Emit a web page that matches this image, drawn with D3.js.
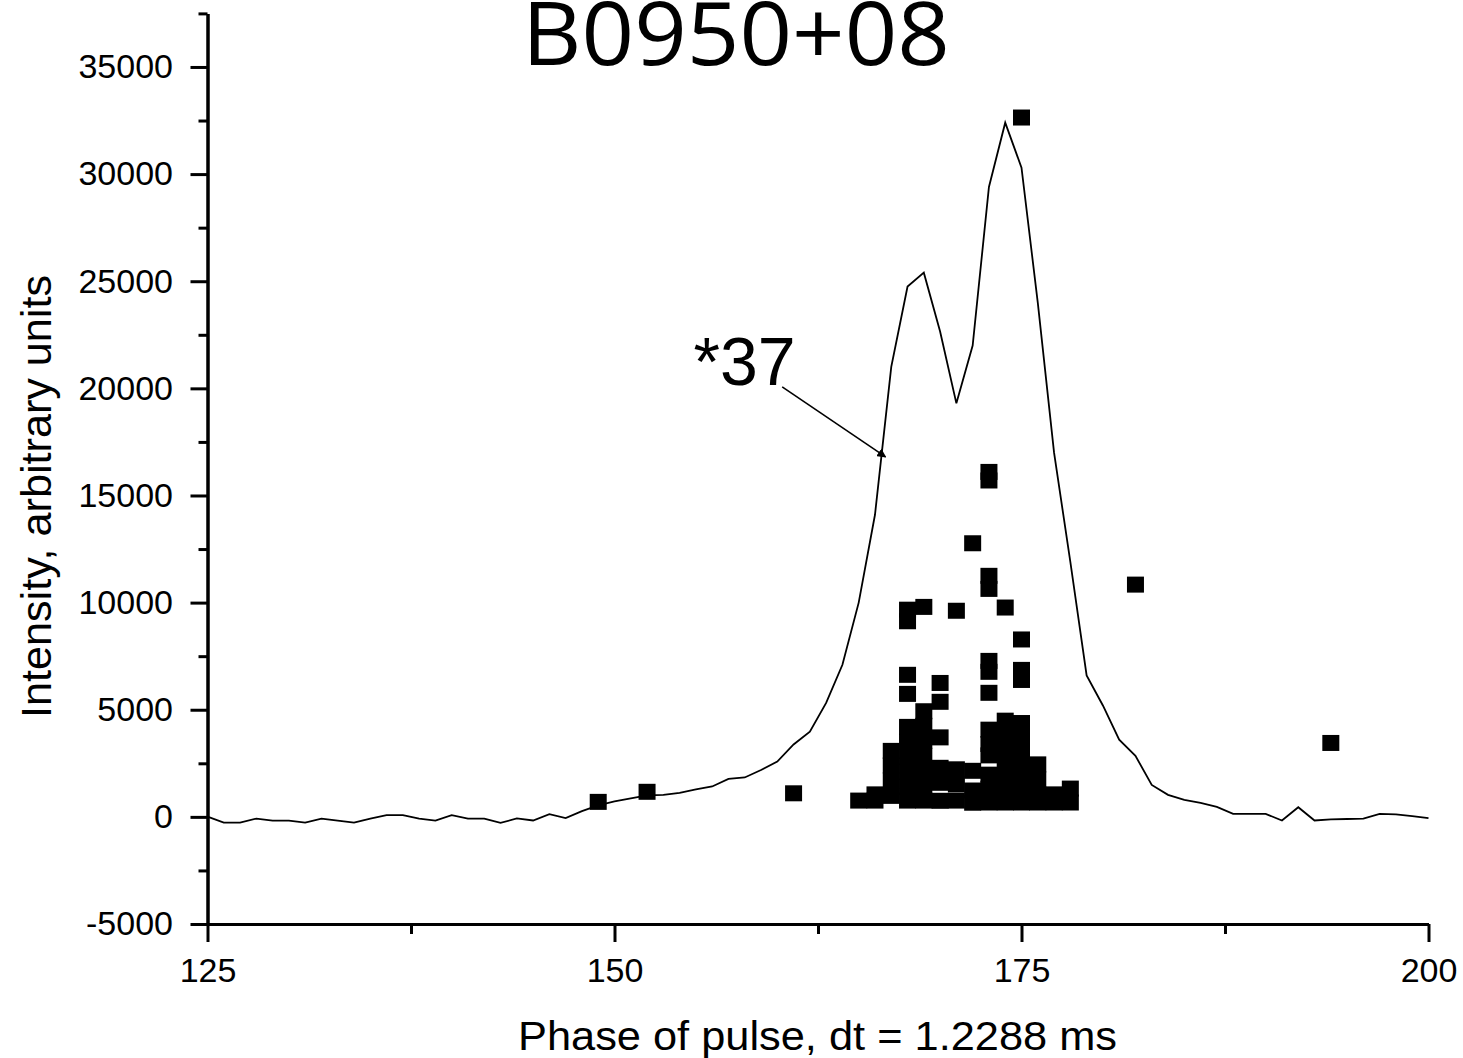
<!DOCTYPE html>
<html><head><meta charset="utf-8">
<script src="https://cdn.jsdelivr.net/npm/d3@7"></script>
<style>body{margin:0;background:#fff} svg{display:block}</style>
</head><body><svg id="c" width="1463" height="1058"></svg>
<script>
// ---- data ----
const profilePhase = [125,126,127,128,129,130,131,132,133,134,135,136,137,138,139,140,141,142,143,144,
  145,146,147,148,149,150,151,152,153,154,155,156,157,158,159,160,161,162,163,164,165,166,167,168,169,170,
  171,172,173,174,175,176,177,178,179,180,181,182,183,184,185,186,187,188,189,190,191,192,193,194,195,196,
  197,198,199,200];
const profileIntensity = [15,-265,-265,-80,-173,-173,-265,-80,-173,-265,-80,80,80,-80,-173,80,-80,-80,-280,-75,
  -170,130,-60,270,540,720,860,1000,1030,1120,1280,1420,1770,1840,2190,2580,3380,3980,5320,7100,10000,14100,21000,24750,25400,22650,
  19300,22000,29400,32400,30300,24000,17000,11900,6600,5200,3600,2850,1490,1030,790,650,470,140,140,140,-170,450,-170,-120,-100,-80,
  140,120,30,-60];

const pulsePhase = [149,152,161,165,166,166,167,167,167,167,
  168,168,168,168,168,168,168,168,168,168,
  169,169,169,169,169,169,169,169,
  170,170,170,170,170,170,
  171,171,171,171,
  172,172,172,172,
  173,173,173,173,173,173,173,173,173,173,173,173,173,
  174,174,174,174,174,174,174,174,
  175,175,175,175,175,175,175,175,175,175,175,
  176,176,176,176,
  177,177,
  178,178,
  182,194];
const pulseIntensity = [700,1170,1100,760,1050,760,3080,2400,1700,980,
  9670,9130,6630,5740,4200,3500,2800,2100,1400,760,
  9800,4930,4250,3550,2850,2150,1450,760,
  6250,5370,3710,2290,1590,750,
  9620,2220,1520,760,
  12770,2150,1230,660,
  16100,15700,11250,10640,7280,6770,5790,4070,3400,2870,1970,1310,670,
  9770,4490,3830,3130,2430,1730,1030,670,
  32640,8280,6860,6390,4380,3690,2990,2290,1590,890,670,
  2450,1750,1050,670,
  1050,670,
  1320,670,
  10840,3450];

const xMajorTicks = [125,150,175,200];
const xMinorTicks = [137.5,162.5,187.5];
const yMajorTicks = [-5000,0,5000,10000,15000,20000,25000,30000,35000];
const yMinorTicks = [-2500,2500,7500,12500,17500,22500,27500,32500,37500];

const titleText = "B0950+08";
const xTitle = "Phase of pulse, dt = 1.2288 ms";
const yTitle = "Intensity, arbitrary units";
const noteText = "*37";
const noteTail = [160.3, 20070];
const noteHead = [166.65, 16800];
const notePos = [154.85, 20160];

// ---- chart ----
const svg = d3.select("#c");
const x = d3.scaleLinear().domain([125,200]).range([207.5,1428.5]);
const y = d3.scaleLinear().domain([-5000,37500]).range([924,13.4]);
const font = "'Liberation Sans', Arial, sans-serif";
const plainFmt = d => String(d);

// line
svg.append("path")
  .datum(profilePhase.map((p,i)=>[p,profileIntensity[i]]))
  .attr("fill","none").attr("stroke","#000").attr("stroke-width",1.8)
  .attr("stroke-linejoin","miter")
  .attr("d", d3.line().x(d=>x(d[0])).y(d=>y(d[1])));

// squares
const sw=17, sh=16;
svg.append("g").selectAll("rect")
  .data(pulsePhase.map((p,i)=>[p,pulseIntensity[i]]))
  .join("rect")
  .attr("x",d=>x(d[0])-sw/2).attr("y",d=>y(d[1])-sh/2)
  .attr("width",sw).attr("height",sh).attr("fill","#000");

// axes
function styleAxis(g){
  g.select(".domain").attr("stroke","#000").attr("stroke-width",3);
  g.selectAll(".tick line").attr("stroke","#000").attr("stroke-width",3);
  g.selectAll("text").attr("fill","#000").style("font-family",font).style("font-size","34px");
}
const gx = svg.append("g").attr("transform","translate(0,924)");
gx.call(d3.axisBottom(x).tickValues(xMajorTicks).tickSize(18).tickSizeOuter(0).tickPadding(16).tickFormat(plainFmt));
styleAxis(gx);
const gxm = svg.append("g").attr("transform","translate(0,924)");
gxm.call(d3.axisBottom(x).tickValues(xMinorTicks).tickSize(10).tickSizeOuter(0).tickFormat(""));
styleAxis(gxm);

const gy = svg.append("g").attr("transform","translate(207.5,0)");
gy.call(d3.axisLeft(y).tickValues(yMajorTicks).tickSize(17).tickSizeOuter(0).tickPadding(17.5).tickFormat(plainFmt));
styleAxis(gy);
const gym = svg.append("g").attr("transform","translate(207.5,0)");
gym.call(d3.axisLeft(y).tickValues(yMinorTicks).tickSize(9).tickSizeOuter(0).tickFormat(""));
styleAxis(gym);

// titles
svg.append("text").text(titleText)
  .attr("x",736).attr("y",65).attr("text-anchor","middle")
  .attr("textLength",428).attr("lengthAdjust","spacingAndGlyphs")
  .style("font-family","'Open Sans', sans-serif").style("font-size","88px").attr("fill","#000");

svg.append("text").text(xTitle)
  .attr("x",817.5).attr("y",1050).attr("text-anchor","middle")
  .attr("textLength",599).attr("lengthAdjust","spacingAndGlyphs")
  .style("font-family",font).style("font-size","40px").attr("fill","#000");

svg.append("text").text(yTitle)
  .attr("transform","translate(51,496.5) rotate(-90)").attr("text-anchor","middle")
  .attr("textLength",443).attr("lengthAdjust","spacingAndGlyphs")
  .style("font-family",font).style("font-size","42px").attr("fill","#000");

// annotation
svg.append("defs").append("marker")
  .attr("id","ah").attr("viewBox","0 0 10 10").attr("refX",9).attr("refY",5)
  .attr("markerWidth",9).attr("markerHeight",9).attr("markerUnits","userSpaceOnUse")
  .attr("orient","auto")
  .append("path").attr("d","M0,0 L10,5 L0,10 Z").attr("fill","#000");
svg.append("line")
  .attr("x1",x(noteTail[0])).attr("y1",y(noteTail[1]))
  .attr("x2",x(noteHead[0])).attr("y2",y(noteHead[1]))
  .attr("stroke","#000").attr("stroke-width",1.6).attr("marker-end","url(#ah)");
svg.append("text").text(noteText)
  .attr("x",x(notePos[0])).attr("y",y(notePos[1]))
  .style("font-family",font).style("font-size","68px").attr("fill","#000");
</script>
</body></html>
